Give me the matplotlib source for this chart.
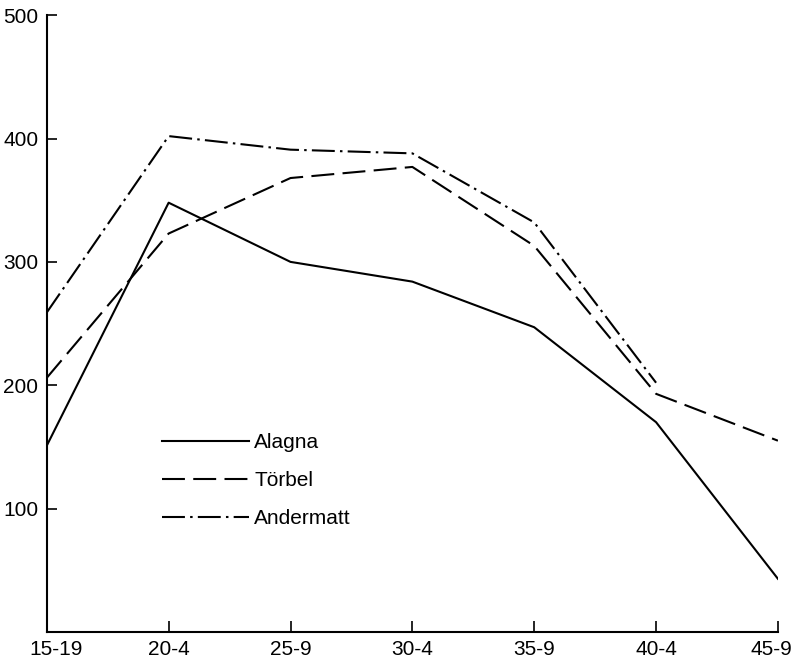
import matplotlib
matplotlib.use('Agg')
import matplotlib.pyplot as plt
import matplotlib.transforms as mtransforms

# age groups and values
age_groups = ['15-19', '20-4', '25-9', '30-4', '35-9', '40-4', '45-9']
alagna = [151, 348, 300, 284, 247, 170, 43]
torbel = [206, 323, 368, 377, 313, 193, 155]
andermatt = [259, 402, 391, 388, 332, 202]   # no value for 45-9
y_ticks = [100, 200, 300, 400, 500]

plt.rcParams['font.family'] = ['Liberation Sans', 'DejaVu Sans']

fig = plt.figure(figsize=(7.93, 6.63), dpi=100)
ax = fig.add_axes([0.059, 0.047, 0.922, 0.93])

x = list(range(len(age_groups)))
lw = 1.5
ax.plot(x, alagna, color='black', lw=lw, linestyle='-', label='Alagna')
ax.plot(x, torbel, color='black', lw=lw, linestyle=(0, (11, 4)), label='Törbel')
ax.plot(x[:len(andermatt)], andermatt, color='black', lw=lw,
        linestyle=(0, (11, 2.5, 1.2, 2.5)), label='Andermatt')

ax.set_xlim(0, len(age_groups) - 1)
ax.set_ylim(0, 500)
ax.set_xticks(x)
ax.set_xticklabels(age_groups, family=['Liberation Sans Narrow', 'Liberation Sans'])
ax.set_yticks(y_ticks)

for s in ['top', 'right']:
    ax.spines[s].set_visible(False)
for s in ['left', 'bottom']:
    ax.spines[s].set_linewidth(1.5)

ax.tick_params(axis='x', direction='in', length=8, width=1.2, pad=6, labelsize=15)
ax.tick_params(axis='y', direction='in', length=7, width=1.2, pad=6, labelsize=15)

# nudge the end labels like in the original
xl = ax.get_xticklabels()
xl[0].set_transform(xl[0].get_transform() +
                    mtransforms.ScaledTranslation(7 / 72, 0, fig.dpi_scale_trans))
xl[-1].set_transform(xl[-1].get_transform() +
                     mtransforms.ScaledTranslation(-5 / 72, 0, fig.dpi_scale_trans))

leg = ax.legend(loc='upper left', bbox_to_anchor=(0.157, 0.322), frameon=False,
                fontsize=15, handlelength=4.2, handletextpad=0.25,
                labelspacing=0.9, borderpad=0, borderaxespad=0)

fig.savefig('out.png', dpi=100)
